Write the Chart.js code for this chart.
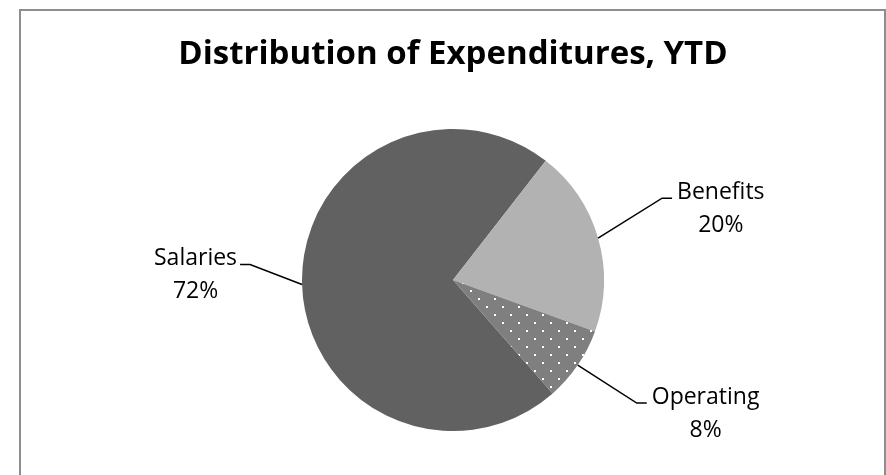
<!DOCTYPE html>
<html>
<head>
<meta charset="utf-8">
<script src="https://cdn.jsdelivr.net/npm/chart.js@4.4.1/dist/chart.umd.min.js"></script>
<style>
  html, body { margin: 0; padding: 0; background: #fff; }
  #wrap { position: relative; width: 886px; height: 475px; }
</style>
</head>
<body>
<div id="wrap"><canvas id="myChart" width="886" height="475"></canvas></div>
<script>
var categories = ['Salaries', 'Benefits', 'Operating'];
var shares = [72, 20, 8];
var pctLabels = ['72%', '20%', '8%'];

// where each label sits, relative to the slice's outer edge (px)
var labelOffsets = [[-52, -20], [64, -40], [59, 38]];

function dotPattern() {
    var c = document.createElement('canvas');
    c.width = 16; c.height = 16;
    var g = c.getContext('2d');
    g.fillStyle = '#7f7f7f';
    g.fillRect(0, 0, 16, 16);
    g.fillStyle = '#ffffff';
    g.fillRect(6, 2, 2, 2);
    g.fillRect(14, 10, 2, 2);
    return g.createPattern(c, 'repeat');
}

var frame = {
    id: 'frame',
    beforeDraw: function (chart) {
        var ctx = chart.ctx;
        ctx.save();
        ctx.strokeStyle = '#8e8e8e';
        ctx.lineWidth = 2;
        ctx.beginPath();
        ctx.moveTo(20, chart.height);
        ctx.lineTo(20, 10);
        ctx.lineTo(885, 10);
        ctx.lineTo(885, chart.height);
        ctx.stroke();
        ctx.restore();
    }
};

var leaderLabels = {
    id: 'leaderLabels',
    afterDatasetsDraw: function (chart) {
        var ctx = chart.ctx;
        var arcs = chart.getDatasetMeta(0).data;
        ctx.save();
        ctx.font = '23px "Open Sans"';
        ctx.fillStyle = '#000';
        ctx.strokeStyle = '#000';
        ctx.lineWidth = 1.5;
        arcs.forEach(function (arc, i) {
            var mid = (arc.startAngle + arc.endAngle) / 2;
            var ex = arc.x + Math.cos(mid) * arc.outerRadius;
            var ey = arc.y + Math.sin(mid) * arc.outerRadius;
            var bx = ex + labelOffsets[i][0];
            var by = ey + labelOffsets[i][1];
            var right = labelOffsets[i][0] > 0;
            var hx = bx + (right ? 10 : -10);
            ctx.beginPath();
            ctx.moveTo(ex, ey);
            ctx.lineTo(bx, by);
            ctx.lineTo(hx, by);
            ctx.stroke();
            var w1 = ctx.measureText(categories[i]).width;
            var cx = right ? hx + 5 + w1 / 2 : hx - 3 - w1 / 2;
            ctx.textAlign = 'center';
            ctx.textBaseline = 'alphabetic';
            ctx.fillText(categories[i], cx, by + 1);
            ctx.fillText(pctLabels[i], cx, by + 34);
        });
        ctx.restore();
    }
};

var chartArea = document.getElementById('myChart').getContext('2d');

var myChart = new Chart(chartArea, {
    type: 'pie',
    data: {
        labels: categories,
        datasets: [{
            data: shares,
            backgroundColor: ['#616161', '#b2b2b2', dotPattern()],
            borderWidth: 0,
            hoverOffset: 0
        }]
    },
    options: {
        responsive: false,
        animation: false,
        rotation: 138.7,
        layout: {
            padding: { top: 0, left: 20, right: 0, bottom: 44 }
        },
        plugins: {
            legend: { display: false },
            tooltip: { enabled: false },
            title: {
                display: true,
                text: 'Distribution of Expenditures, YTD',
                color: '#000',
                font: { family: 'Open Sans', size: 33, weight: 'bold', lineHeight: 1.2 },
                padding: { top: 35.2, bottom: 54.2 }
            }
        }
    },
    plugins: [frame, leaderLabels]
});
</script>
</body>
</html>
